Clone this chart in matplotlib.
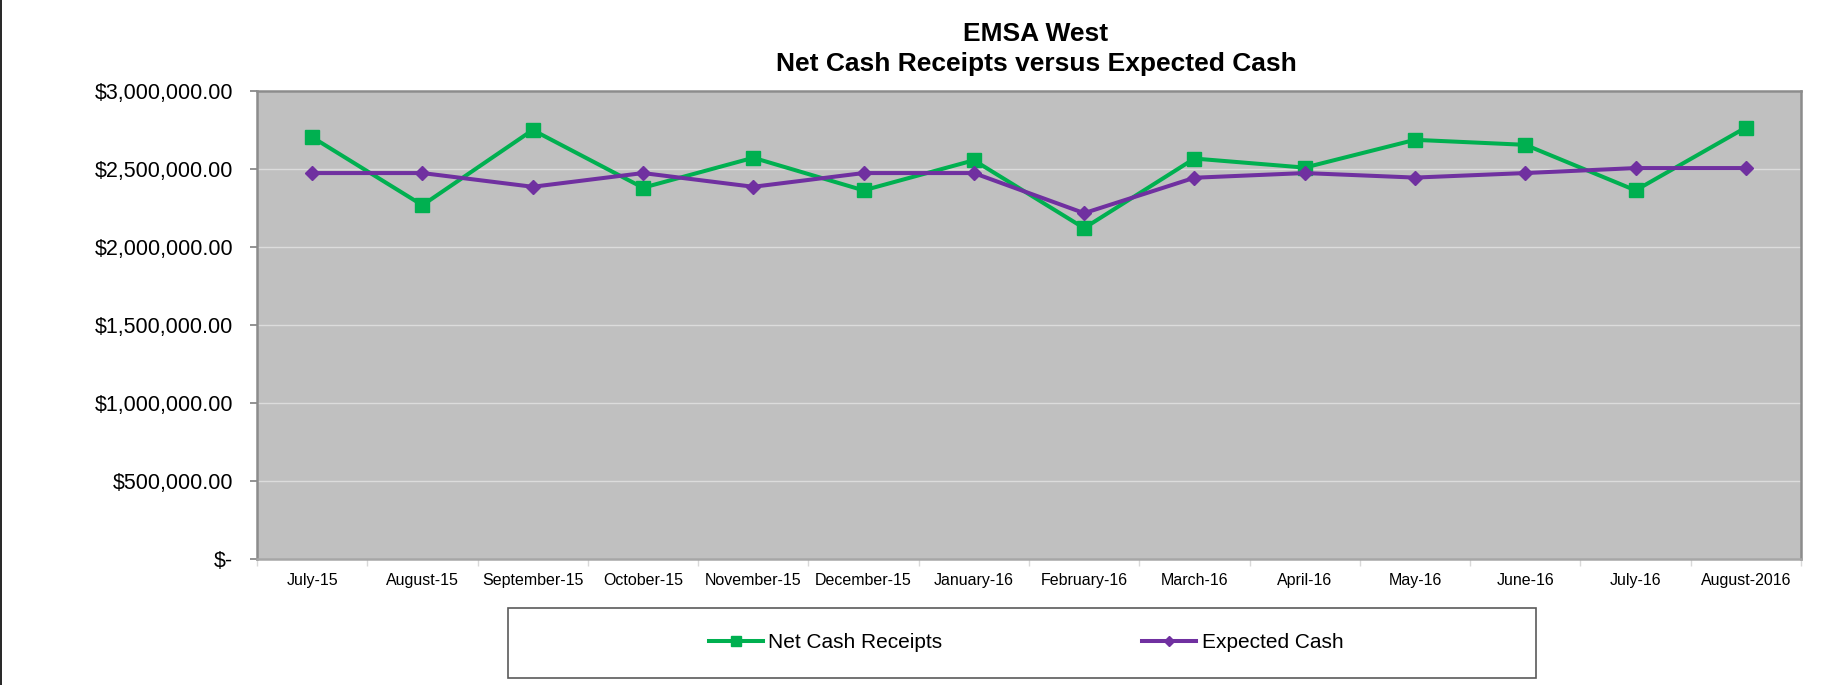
import numpy as np
import matplotlib
matplotlib.use("Agg")
import matplotlib.pyplot as plt
from matplotlib.ticker import FuncFormatter, FixedLocator
from matplotlib.patches import Rectangle
from matplotlib.lines import Line2D

plt.rcParams['font.family'] = ['Liberation Sans', 'DejaVu Sans']

# data
months = ["July-15", "August-15", "September-15", "October-15", "November-15",
          "December-15", "January-16", "February-16", "March-16", "April-16",
          "May-16", "June-16", "July-16", "August-2016"]
net_cash = [2704000, 2268000, 2750000, 2380000, 2572000, 2363000, 2556000,
            2121000, 2567000, 2509000, 2687000, 2655000, 2363000, 2766000]
expected_cash = [2474000, 2474000, 2386000, 2474000, 2386000, 2474000, 2474000,
                 2217000, 2444000, 2474000, 2445000, 2474000, 2506000, 2506000]
y_ticks = [0, 500000, 1000000, 1500000, 2000000, 2500000, 3000000]

W, H = 1845, 685
fig = plt.figure(figsize=(W / 100, H / 100), dpi=100)
ax = fig.add_axes([257 / W, 1 - 559 / H, (1801 - 257) / W, (559 - 91) / H])

x = np.arange(len(months))
ax.set_facecolor("#C0C0C0")
ax.plot(x, net_cash, color="#00B050", lw=2.9, marker="s", ms=9.5,
        label="Net Cash Receipts", zorder=3)
ax.plot(x, expected_cash, color="#7030A0", lw=2.9, marker="D", ms=7.5,
        label="Expected Cash", zorder=3)

ax.set_xlim(-0.5, len(months) - 0.5)
ax.set_ylim(0, 3000000)
ax.set_yticks(y_ticks)
ax.yaxis.set_major_formatter(FuncFormatter(
    lambda v, p: "$-" if v == 0 else "${:,.2f}".format(v)))
ax.grid(axis="y", color="#DCDCDC", lw=1.0)
ax.set_axisbelow(True)

# category labels at centres, tick marks at the boundaries
ax.xaxis.set_major_locator(FixedLocator(x))
ax.set_xticklabels(months, fontsize=11.5)
ax.xaxis.set_minor_locator(FixedLocator(np.arange(len(months) + 1) - 0.5))
ax.tick_params(axis="x", which="major", length=0, pad=10)
ax.tick_params(axis="x", which="minor", length=5, color="#D9D9D9", width=1)
ax.tick_params(axis="y", labelsize=15.5, length=5, color="#808080",
               width=1.2, pad=12)

for side in ["top", "right", "left", "bottom"]:
    ax.spines[side].set_color("#8C8C8C")
    ax.spines[side].set_linewidth(1.8)
ax.spines["bottom"].set_color("#A6A6A6")

fig.text(1036 / W, 1 - 34 / H, "EMSA West", ha="center", va="center",
         fontsize=19, fontweight="bold")
fig.text(1036 / W, 1 - 64 / H, "Net Cash Receipts versus Expected Cash",
         ha="center", va="center", fontsize=19, fontweight="bold")

# legend box
fig.patches.append(Rectangle((508 / W, 1 - 678 / H), (1536 - 508) / W, 70 / H,
                             transform=fig.transFigure, fill=False,
                             edgecolor="#5A5A5A", lw=1.2))
fig.legend(loc="center", bbox_to_anchor=(1026 / W, 1 - 643 / H), ncol=2,
           frameon=False, fontsize=15, handlelength=2.6, handletextpad=0.25,
           columnspacing=9.6, markerscale=0.7)

# left border of the chart area
fig.add_artist(Line2D([0.0006, 0.0006], [0, 1], transform=fig.transFigure,
                      color="black", lw=1.2))

fig.savefig("out.png", dpi=100)
